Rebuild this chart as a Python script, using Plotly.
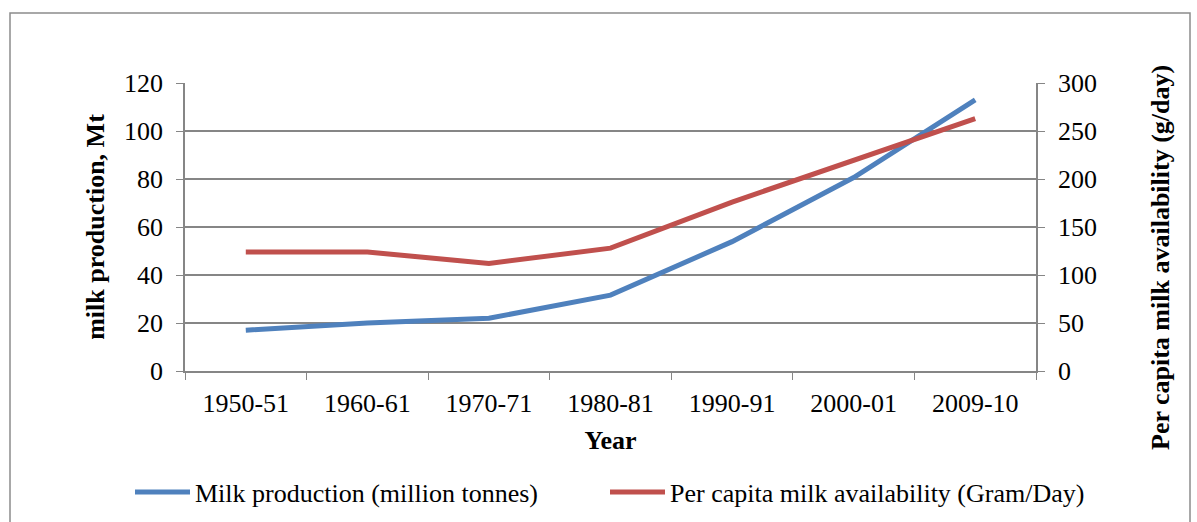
import plotly.graph_objects as go

years = ["1950-51", "1960-61", "1970-71", "1980-81", "1990-91", "2000-01", "2009-10"]
milk_production = [17.0, 20.0, 22.0, 31.6, 53.9, 80.6, 113.0]
per_capita = [124, 124, 112, 128, 176, 220, 263]

FONT = "Liberation Serif, Times New Roman, serif"
FS = 26
GRID = "#868686"
BLUE = "#4F81BD"
RED = "#C0504D"

W, H = 1197, 522
ML, MR, MT, MB = 185, 161, 83, 151
pw, ph = W - ML - MR, H - MT - MB

fig = go.Figure()
fig.add_trace(go.Scatter(
    x=years, y=milk_production, mode="lines",
    name="Milk production (million tonnes)",
    line=dict(color=BLUE, width=5), legend="legend",
))
fig.add_trace(go.Scatter(
    x=years, y=per_capita, mode="lines", yaxis="y2",
    name="Per capita milk availability (Gram/Day)",
    line=dict(color=RED, width=5), legend="legend2",
))

# outer chart frame
fx0, fx1 = 10, 1190
fy0, fy1 = 13, 540
fig.add_shape(
    type="rect", xref="paper", yref="paper",
    x0=(fx0 - ML) / pw, x1=(fx1 - ML) / pw,
    y0=(H - MB - fy1) / ph, y1=(H - MB - fy0) / ph,
    line=dict(color="#8c8c8c", width=1.5), fillcolor="rgba(0,0,0,0)",
    layer="below",
)

# right-hand axis title, placed as text beside the secondary axis
fig.add_annotation(
    text="<b>Per capita milk availability (g/day)</b>",
    xref="paper", yref="paper",
    x=(1160 - ML) / pw, y=(H - MB - 258) / ph,
    xanchor="center", yanchor="middle", textangle=-90, showarrow=False,
    font=dict(family=FONT, size=FS, color="black"),
)

legend_style = dict(
    orientation="h", xref="container", yref="container",
    xanchor="left", y=30 / H, yanchor="middle",
    font=dict(family=FONT, size=FS, color="black"),
    itemwidth=55, bgcolor="rgba(0,0,0,0)",
)

fig.update_layout(
    width=W, height=H,
    margin=dict(l=ML, r=MR, t=MT, b=MB, autoexpand=False),
    paper_bgcolor="white", plot_bgcolor="white",
    font=dict(family=FONT, size=FS, color="black"),
    showlegend=True,
    legend=dict(x=130 / W, **legend_style),
    legend2=dict(x=605 / W, **legend_style),
    xaxis=dict(
        type="category", range=[-0.5, 6.5],
        tickson="boundaries", ticks="outside", ticklen=7, tickcolor=GRID,
        ticklabelstandoff=8,
        showline=True, linecolor=GRID, linewidth=1.5,
        showgrid=False, zeroline=False,
        tickfont=dict(family=FONT, size=FS),
        title=dict(text="<b>Year</b>", font=dict(family=FONT, size=FS), standoff=14),
    ),
    yaxis=dict(
        range=[0, 120], dtick=20,
        ticks="outside", ticklen=7, tickcolor=GRID, ticklabelstandoff=8,
        showline=True, linecolor=GRID, linewidth=1.5,
        showgrid=True, gridcolor=GRID, gridwidth=1.5, zeroline=False,
        tickfont=dict(family=FONT, size=FS),
        title=dict(text="<b>milk production, Mt</b>", font=dict(family=FONT, size=FS), standoff=12),
    ),
    yaxis2=dict(
        range=[0, 300], dtick=50, overlaying="y", side="right",
        ticks="outside", ticklen=7, tickcolor=GRID, ticklabelstandoff=8,
        showline=True, linecolor=GRID, linewidth=1.5,
        showgrid=False, zeroline=False,
        tickfont=dict(family=FONT, size=FS),
    ),
)

fig.write_html("out.html")
